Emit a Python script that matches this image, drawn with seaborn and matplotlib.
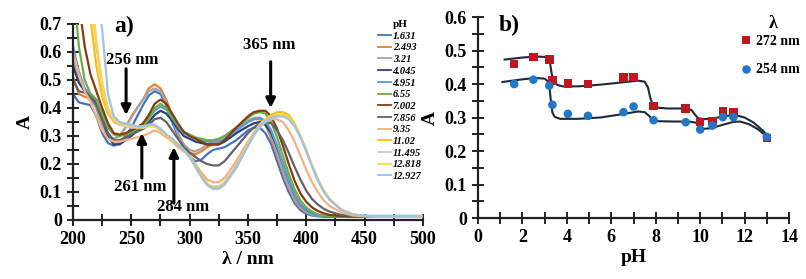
import seaborn as sns
import pandas as pd
import matplotlib.pyplot as plt
from matplotlib.ticker import MultipleLocator

# ---- panel a: UV-vis spectra at different pH ----
wl = [200, 205, 210, 215, 220, 225, 230, 235, 240, 245, 250, 255, 260, 265, 270,
      275, 280, 285, 290, 295, 300, 305, 310, 315, 320, 325, 330, 340, 350, 355,
      360, 365, 370, 375, 380, 385, 390, 395, 400, 405, 410, 415, 420, 430, 440,
      450, 460, 475, 500]

A_1631 = [0.45, 0.42, 0.415, 0.41, 0.37, 0.31, 0.275, 0.265, 0.275, 0.30, 0.33, 0.37, 0.41, 0.445, 0.46,
          0.45, 0.41, 0.35, 0.30, 0.26, 0.225, 0.21, 0.215, 0.235, 0.25, 0.255, 0.26, 0.285, 0.32, 0.33,
          0.33, 0.31, 0.27, 0.21, 0.15, 0.10, 0.06, 0.035, 0.022, 0.016, 0.013, 0.012, 0.011, 0.011, 0.011,
          0.011, 0.011, 0.011, 0.011]
A_2493 = [0.51, 0.45, 0.44, 0.435, 0.40, 0.34, 0.30, 0.29, 0.30, 0.33, 0.37, 0.40, 0.43, 0.47, 0.485,
          0.47, 0.43, 0.37, 0.31, 0.265, 0.24, 0.235, 0.245, 0.26, 0.27, 0.28, 0.29, 0.32, 0.35, 0.36,
          0.36, 0.34, 0.29, 0.23, 0.17, 0.115, 0.07, 0.042, 0.027, 0.019, 0.015, 0.013, 0.012, 0.012, 0.012,
          0.012, 0.012, 0.012, 0.012]
A_321 = [0.57, 0.50, 0.46, 0.44, 0.40, 0.34, 0.30, 0.29, 0.30, 0.33, 0.365, 0.40, 0.43, 0.46, 0.47,
         0.46, 0.42, 0.36, 0.31, 0.27, 0.25, 0.245, 0.255, 0.27, 0.28, 0.29, 0.30, 0.33, 0.355, 0.365,
         0.365, 0.345, 0.30, 0.24, 0.175, 0.12, 0.075, 0.045, 0.028, 0.02, 0.015, 0.013, 0.012, 0.012, 0.012,
         0.012, 0.012, 0.012, 0.012]
A_4045 = [0.55, 0.49, 0.46, 0.45, 0.42, 0.36, 0.30, 0.27, 0.27, 0.285, 0.30, 0.32, 0.335, 0.35, 0.375,
          0.39, 0.38, 0.355, 0.325, 0.30, 0.29, 0.28, 0.275, 0.27, 0.27, 0.27, 0.28, 0.31, 0.335, 0.345,
          0.35, 0.34, 0.31, 0.26, 0.20, 0.14, 0.09, 0.055, 0.035, 0.022, 0.016, 0.013, 0.012, 0.012, 0.012,
          0.012, 0.012, 0.012, 0.012]
A_4951 = [0.62, 0.53, 0.47, 0.45, 0.43, 0.37, 0.31, 0.28, 0.28, 0.29, 0.31, 0.33, 0.345, 0.365, 0.39,
          0.405, 0.395, 0.365, 0.335, 0.31, 0.30, 0.29, 0.285, 0.28, 0.28, 0.28, 0.29, 0.32, 0.35, 0.36,
          0.365, 0.355, 0.32, 0.265, 0.20, 0.14, 0.09, 0.055, 0.033, 0.02, 0.015, 0.013, 0.012, 0.012, 0.012,
          0.012, 0.012, 0.012, 0.012]
A_655 = [0.85, 0.62, 0.50, 0.45, 0.43, 0.38, 0.33, 0.305, 0.30, 0.305, 0.315, 0.325, 0.335, 0.36, 0.40,
         0.415, 0.40, 0.37, 0.34, 0.315, 0.305, 0.295, 0.29, 0.285, 0.285, 0.29, 0.30, 0.33, 0.365, 0.38,
         0.385, 0.38, 0.35, 0.295, 0.23, 0.165, 0.11, 0.07, 0.045, 0.03, 0.02, 0.016, 0.014, 0.013, 0.012,
         0.012, 0.012, 0.012, 0.012]
A_7002 = [1.0, 0.78, 0.62, 0.52, 0.46, 0.40, 0.345, 0.31, 0.305, 0.31, 0.32, 0.33, 0.345, 0.375, 0.415,
          0.43, 0.415, 0.38, 0.345, 0.315, 0.30, 0.29, 0.28, 0.27, 0.27, 0.27, 0.285, 0.33, 0.37, 0.385,
          0.39, 0.39, 0.37, 0.325, 0.265, 0.20, 0.14, 0.095, 0.065, 0.045, 0.032, 0.024, 0.018, 0.014, 0.012,
          0.012, 0.012, 0.012, 0.012]
A_7856 = [0.50, 0.46, 0.455, 0.44, 0.41, 0.36, 0.31, 0.285, 0.285, 0.295, 0.305, 0.315, 0.325, 0.34, 0.36,
          0.365, 0.35, 0.32, 0.29, 0.26, 0.24, 0.225, 0.21, 0.20, 0.195, 0.195, 0.21, 0.26, 0.31, 0.33,
          0.345, 0.35, 0.345, 0.32, 0.285, 0.24, 0.19, 0.145, 0.105, 0.075, 0.055, 0.04, 0.03, 0.018, 0.014,
          0.012, 0.012, 0.012, 0.012]
A_935 = [0.60, 0.52, 0.46, 0.42, 0.37, 0.32, 0.29, 0.28, 0.28, 0.285, 0.29, 0.295, 0.30, 0.31, 0.32,
         0.31, 0.295, 0.28, 0.26, 0.245, 0.23, 0.20, 0.17, 0.145, 0.135, 0.135, 0.15, 0.21, 0.28, 0.31,
         0.335, 0.35, 0.36, 0.36, 0.35, 0.32, 0.28, 0.23, 0.18, 0.135, 0.10, 0.07, 0.05, 0.027, 0.016,
         0.013, 0.012, 0.012, 0.012]
A_1102 = [1.5, 1.2, 0.95, 0.72, 0.55, 0.44, 0.38, 0.35, 0.34, 0.34, 0.335, 0.33, 0.33, 0.335, 0.335,
          0.32, 0.30, 0.285, 0.27, 0.25, 0.225, 0.195, 0.16, 0.13, 0.115, 0.115, 0.13, 0.19, 0.27, 0.31,
          0.34, 0.36, 0.375, 0.385, 0.385, 0.375, 0.345, 0.30, 0.25, 0.195, 0.145, 0.105, 0.075, 0.037, 0.02,
          0.014, 0.013, 0.013, 0.013]
A_11495 = [1.6, 1.3, 1.05, 0.82, 0.62, 0.48, 0.39, 0.355, 0.34, 0.335, 0.33, 0.33, 0.33, 0.34, 0.34,
           0.325, 0.305, 0.29, 0.27, 0.25, 0.225, 0.19, 0.155, 0.125, 0.11, 0.11, 0.125, 0.185, 0.265, 0.30,
           0.33, 0.35, 0.365, 0.375, 0.375, 0.365, 0.34, 0.30, 0.25, 0.195, 0.145, 0.105, 0.075, 0.037, 0.02,
           0.014, 0.013, 0.013, 0.013]
A_12818 = [1.8, 1.4, 1.1, 0.85, 0.64, 0.49, 0.40, 0.36, 0.345, 0.34, 0.335, 0.33, 0.33, 0.335, 0.335,
           0.32, 0.30, 0.285, 0.27, 0.25, 0.225, 0.19, 0.155, 0.125, 0.12, 0.12, 0.135, 0.195, 0.27, 0.31,
           0.34, 0.36, 0.37, 0.375, 0.375, 0.365, 0.34, 0.30, 0.25, 0.195, 0.145, 0.105, 0.075, 0.037, 0.02,
           0.015, 0.014, 0.014, 0.014]
A_12927 = [2.2, 1.8, 1.4, 1.1, 0.85, 0.68, 0.45, 0.37, 0.35, 0.345, 0.34, 0.335, 0.335, 0.34, 0.34,
           0.325, 0.305, 0.29, 0.27, 0.25, 0.225, 0.19, 0.155, 0.125, 0.115, 0.115, 0.13, 0.19, 0.265, 0.305,
           0.335, 0.355, 0.365, 0.37, 0.37, 0.36, 0.335, 0.295, 0.245, 0.19, 0.14, 0.10, 0.072, 0.036, 0.02,
           0.015, 0.015, 0.015, 0.015]

ph_labels = ['1.631', '2.493', '3.21', '4.045', '4.951', '6.55', '7.002', '7.856',
             '9.35', '11.02', '11.495', '12.818', '12.927']
spectra = [A_1631, A_2493, A_321, A_4045, A_4951, A_655, A_7002, A_7856,
           A_935, A_1102, A_11495, A_12818, A_12927]
colors = ['#4472C4', '#ED7D31', '#A5A5A5', '#264478', '#5B9BD5', '#70AD47', '#843C0C',
          '#636363', '#F4B183', '#FFC000', '#C9C9C9', '#FFD24D', '#9DC3E6']

# ---- panel b: absorbance vs pH ----
pH_pts = [1.631, 2.493, 3.21, 3.35, 4.045, 4.951, 6.55, 7.002, 7.9, 9.35, 10.0, 10.55, 11.02, 11.495, 13.0]
A272_pts = [0.46, 0.48, 0.473, 0.41, 0.401, 0.40, 0.42, 0.421, 0.335, 0.327, 0.287, 0.29, 0.318, 0.316, 0.239]
A254_pts = [0.40, 0.413, 0.395, 0.338, 0.311, 0.305, 0.316, 0.333, 0.292, 0.286, 0.264, 0.276, 0.301, 0.301, 0.242]

pH_fit272 = [1.2, 2.0, 2.6, 3.0, 3.15, 3.25, 3.32, 3.4, 3.55, 3.8, 4.5, 5.5, 6.5, 7.2, 7.5, 7.65,
             7.75, 7.85, 8.0, 8.5, 9.3, 9.6, 9.75, 9.9, 10.2, 10.7, 11.2, 11.6, 12.0, 12.4, 12.8, 13.1]
A_fit272 = [0.473, 0.479, 0.482, 0.481, 0.477, 0.46, 0.43, 0.41, 0.398, 0.393, 0.393, 0.398, 0.405, 0.41, 0.407, 0.39,
            0.36, 0.34, 0.33, 0.327, 0.327, 0.323, 0.31, 0.298, 0.295, 0.299, 0.305, 0.307, 0.3, 0.285, 0.262, 0.242]
pH_fit254 = [1.1, 2.0, 2.6, 3.0, 3.15, 3.22, 3.28, 3.35, 3.45, 3.7, 4.5, 5.5, 6.5, 7.2, 7.5, 7.7,
             7.85, 8.1, 8.8, 9.5, 9.85, 9.95, 10.1, 10.5, 11.0, 11.5, 11.8, 12.2, 12.6, 13.1]
A_fit254 = [0.406, 0.414, 0.418, 0.416, 0.408, 0.39, 0.35, 0.315, 0.302, 0.296, 0.296, 0.3, 0.31, 0.318, 0.316, 0.305,
            0.294, 0.289, 0.288, 0.288, 0.284, 0.272, 0.266, 0.268, 0.278, 0.287, 0.288, 0.28, 0.265, 0.238]

plt.rcParams['font.family'] = ['Liberation Serif', 'DejaVu Serif']
plt.rcParams['font.weight'] = 'bold'

spec_rows = []
for lab, vals in zip(ph_labels, spectra):
    for w, a in zip(wl, vals):
        spec_rows.append({'wl': w, 'A': a, 'pH': lab})
spec_df = pd.DataFrame(spec_rows)

pts_df = pd.DataFrame({'pH': pH_pts * 2, 'A': A272_pts + A254_pts,
                       'lam': ['272 nm'] * len(pH_pts) + ['254 nm'] * len(pH_pts)})

fig = plt.figure(figsize=(8.06, 2.79), dpi=100)
ax1 = fig.add_axes([0.0906, 0.2115, 0.434, 0.7025])
ax2 = fig.add_axes([0.593, 0.2186, 0.386, 0.7204])

sns.lineplot(data=spec_df, x='wl', y='A', hue='pH', hue_order=ph_labels,
             palette=dict(zip(ph_labels, colors)), lw=1.6, ax=ax1)

sns.lineplot(x=pH_fit272, y=A_fit272, color='#1C2B3A', lw=1.5, ax=ax2)
sns.lineplot(x=pH_fit254, y=A_fit254, color='#1C2B3A', lw=1.5, ax=ax2)
sns.scatterplot(data=pts_df, x='pH', y='A', hue='lam', style='lam',
                markers={'272 nm': 's', '254 nm': 'o'},
                palette={'272 nm': '#C0161E', '254 nm': '#1F78C8'},
                s=38, linewidth=0, zorder=3, ax=ax2)

for ax in (ax1, ax2):
    sns.despine(ax=ax)
    for sp in ('left', 'bottom'):
        ax.spines[sp].set_linewidth(1.6)
        ax.spines[sp].set_color('#222222')
    ax.tick_params(which='both', direction='inout', length=8, width=1.4, color='#222222')
    ax.tick_params(which='major', labelsize=13, pad=4)
    for t in ax.get_xticklabels() + ax.get_yticklabels():
        t.set_fontweight('bold')

ax1.set_xlim(200, 500)
ax1.set_ylim(0, 0.7)
ax1.xaxis.set_major_locator(MultipleLocator(50))
ax1.xaxis.set_minor_locator(MultipleLocator(25))
ax1.set_yticks([0, 0.1, 0.2, 0.3, 0.4, 0.5, 0.6, 0.7], ['0', '0.1', '0.2', '0.3', '0.4', '0.5', '0.6', '0.7'],
               fontweight='bold')
ax1.yaxis.set_minor_locator(MultipleLocator(0.05))
ax1.set_xlabel('λ / nm', fontsize=14, fontweight='bold', labelpad=2)
ax1.set_ylabel('A', fontsize=14, fontweight='bold', labelpad=4)

ax2.set_xlim(0, 14)
ax2.set_ylim(0, 0.6)
ax2.xaxis.set_major_locator(MultipleLocator(2))
ax2.xaxis.set_minor_locator(MultipleLocator(1))
ax2.set_yticks([0, 0.1, 0.2, 0.3, 0.4, 0.5, 0.6], ['0', '0.1', '0.2', '0.3', '0.4', '0.5', '0.6'],
               fontweight='bold')
ax2.yaxis.set_minor_locator(MultipleLocator(0.05))
ax2.set_xlabel('pH', fontsize=14, fontweight='bold', labelpad=2)
ax2.set_ylabel('A', fontsize=14, fontweight='bold', labelpad=4)

# annotations
arrow = dict(arrowstyle='-|>', lw=2.2, color='black', mutation_scale=14, shrinkA=0, shrinkB=0)
ax1.annotate('', xy=(245.5, 0.375), xytext=(245.5, 0.54), arrowprops=arrow)
ax1.annotate('', xy=(369.5, 0.40), xytext=(369.5, 0.565), arrowprops=arrow)
ax1.annotate('', xy=(259, 0.31), xytext=(259, 0.15), arrowprops=arrow)
ax1.annotate('', xy=(286.5, 0.26), xytext=(286.5, 0.06), arrowprops=arrow)
ax1.text(251, 0.572, '256 nm', fontsize=12, fontweight='bold', ha='center', va='center')
ax1.text(368, 0.625, '365 nm', fontsize=12, fontweight='bold', ha='center', va='center')
ax1.text(257.5, 0.118, '261 nm', fontsize=12, fontweight='bold', ha='center', va='center')
ax1.text(294, 0.046, '284 nm', fontsize=12, fontweight='bold', ha='center', va='center')
ax1.text(244, 0.69, 'a)', fontsize=17, fontweight='bold', ha='center', va='center')
ax2.text(1.4, 0.576, 'b)', fontsize=17, fontweight='bold', ha='center', va='center')

leg1 = ax1.legend(title='pH', loc='upper left', bbox_to_anchor=(0.872, 1.02), frameon=False,
                  fontsize=7.5, title_fontsize=8, labelspacing=0.23, handlelength=1.2,
                  handletextpad=0.2, borderaxespad=0, borderpad=0)
for t in leg1.get_texts():
    t.set_fontweight('bold')
    t.set_fontstyle('italic')
leg1.get_title().set_fontweight('bold')
for ln in leg1.get_lines():
    ln.set_linewidth(1.3)

ax2.text(0.949, 0.97, 'λ', transform=ax2.transAxes, fontsize=13, fontweight='bold',
         ha='center', va='center')
leg2 = ax2.legend(loc='upper left', bbox_to_anchor=(0.845, 0.91), frameon=False,
                  fontsize=10, labelspacing=1.1, handlelength=0.8, handletextpad=0.3,
                  borderaxespad=0, borderpad=0)
for t in leg2.get_texts():
    t.set_fontweight('bold')

fig.savefig('out.png', dpi=100)
